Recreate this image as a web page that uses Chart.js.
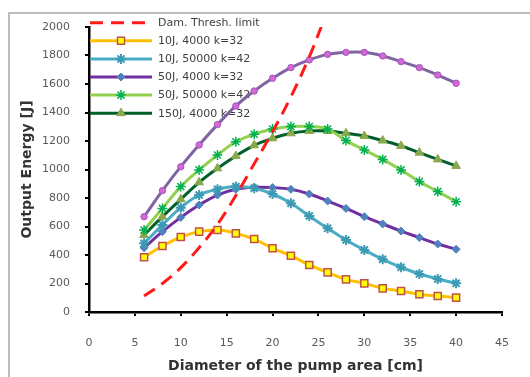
<!DOCTYPE html>
<html>
<head>
<meta charset="utf-8">
<script src="https://cdn.jsdelivr.net/npm/chart.js@4.4.1/dist/chart.umd.min.js"></script>
<style>
  html, body { margin: 0; padding: 0; background: #fff; }
  #wrap { width: 530px; height: 377px; position: relative; }
</style>
</head>
<body>
<div id="wrap"><canvas id="chart"></canvas></div>
<script>
// pump diameter [cm] for all simulated series
const diameter = [6, 8, 10, 12, 14, 16, 18, 20, 22, 24, 26, 28, 30, 32, 34, 36, 38, 40];

// damage threshold limit (dashed red)
const threshDiameter = [6, 8, 10, 12, 14, 16, 18, 20, 22, 24, 25.3];
const threshEnergy = [112, 200, 311, 452, 615, 818, 1040, 1265, 1510, 1790, 2000];

// output energy [J]
const e10J4000 = [384, 463, 526, 564, 575, 552, 512, 447, 395, 330, 278, 229, 201, 166, 147, 124, 112, 101];
const e10J50000 = [482, 611, 732, 821, 861, 880, 868, 828, 763, 674, 587, 505, 435, 370, 314, 267, 232, 201];
const e50J4000 = [451, 564, 664, 751, 821, 861, 875, 873, 861, 828, 779, 727, 669, 618, 568, 522, 477, 440];
const e50J50000 = [575, 727, 880, 997, 1102, 1195, 1247, 1284, 1301, 1301, 1284, 1203, 1137, 1071, 997, 915, 845, 774];
const e150J4000 = [540, 669, 791, 910, 1008, 1095, 1170, 1219, 1254, 1270, 1270, 1254, 1235, 1203, 1165, 1118, 1071, 1025];
const e150J50000 = [669, 852, 1020, 1172, 1315, 1446, 1551, 1640, 1715, 1769, 1808, 1822, 1822, 1797, 1757, 1715, 1663, 1605];

const labels = ['Dam. Thresh. limit', '10J, 4000 k=32', '10J, 50000 k=42', '50J, 4000 k=32',
                '50J, 50000 k=42', '150J, 4000 k=32', '150J, 50000 k=42'];

function pts(xs, ys) {
    return xs.map(function (x, i) { return { x: x, y: ys[i] }; });
}

const FONT = 'DejaVu Sans';

// legend drawn inside the plot, top-left, like the original
const insideLegend = {
    id: 'insideLegend',
    beforeDatasetsDraw(chart) {
        const ctx = chart.ctx;
        const sets = chart.data.datasets;
        ctx.save();
        let y = 22.7;
        for (let i = 0; i < sets.length; i++) {
            const ds = sets[i];
            if (ds.noLegend) continue;
            ctx.beginPath();
            ctx.setLineDash(ds.borderDash || []);
            ctx.strokeStyle = ds.borderColor;
            ctx.lineWidth = ds.borderWidth;
            ctx.moveTo(90, y);
            ctx.lineTo(152, y);
            ctx.stroke();
            ctx.setLineDash([]);
            if (ds.pointRadius > 0) {
                ctx.fillStyle = ds.pointBackgroundColor;
                ctx.strokeStyle = ds.pointBorderColor;
                ctx.lineWidth = ds.pointBorderWidth;
                Chart.helpers.drawPoint(ctx, {
                    pointStyle: ds.pointStyle, radius: ds.pointRadius,
                    rotation: 0, borderWidth: ds.pointBorderWidth
                }, 121, y);
            }
            ctx.fillStyle = '#404040';
            ctx.font = '11px "' + FONT + '"';
            ctx.textBaseline = 'middle';
            ctx.textAlign = 'left';
            ctx.fillText(ds.label, 158, y + 0.5);
            y += 18.1;
        }
        ctx.restore();
    }
};

// grey outer frame (top and left edges visible)
const frame = {
    id: 'frame',
    beforeDraw(chart) {
        const ctx = chart.ctx;
        ctx.save();
        ctx.strokeStyle = '#a6a6a6';
        ctx.lineWidth = 1.5;
        ctx.beginPath();
        ctx.moveTo(530, 13);
        ctx.lineTo(9, 13);
        ctx.lineTo(9, 377);
        ctx.stroke();
        ctx.restore();
    }
};

function series(label, data, color, style, fill, border, radius, bw) {
    return {
        label: label,
        data: data,
        borderColor: color,
        borderWidth: 3,
        tension: 0.4,
        pointStyle: style,
        pointRadius: radius,
        pointBackgroundColor: fill,
        pointBorderColor: border,
        pointBorderWidth: bw,
        pointHoverRadius: radius
    };
}

const datasets = [
    {
        label: labels[0],
        data: pts(threshDiameter, threshEnergy),
        borderColor: '#ff1a1a',
        borderWidth: 3,
        borderDash: [13, 8],
        tension: 0.4,
        pointRadius: 0
    },
    series(labels[1], pts(diameter, e10J4000), '#ffc000', 'rect', '#ffff00', '#c0504d', 5, 1.5),
    series(labels[2], pts(diameter, e10J50000), '#4bacc6', 'star', '#4bacc6', '#3c9ab4', 5, 2),
    series(labels[3], pts(diameter, e50J4000), '#7030a0', 'rectRot', '#4f81bd', '#4f81bd', 4, 1),
    series(labels[4], pts(diameter, e50J50000), '#92d050', 'star', '#00b050', '#00b050', 5, 1.5),
    series(labels[5], pts(diameter, e150J4000), '#00602b', 'triangle', '#8aa84c', '#8aa84c', 5, 1),
    Object.assign(series(labels[6], pts(diameter, e150J50000), '#8064a2', 'circle', '#d966d9', '#9b59b6', 3.2, 1), { noLegend: true })
];

new Chart(document.getElementById('chart'), {
    type: 'line',
    data: { datasets: datasets },
    plugins: [frame, insideLegend],
    options: {
        responsive: true,
        maintainAspectRatio: false,
        animation: false,
        layout: { padding: { left: 0, right: 13, top: 27, bottom: 0 } },
        plugins: { legend: { display: false }, tooltip: { enabled: false } },
        scales: {
            x: {
                type: 'linear',
                min: 0, max: 45,
                afterFit: function (s) { s.height = 65; },
                ticks: { stepSize: 5, padding: 21, color: '#595959', font: { family: FONT, size: 11 },
                         callback: function (v) { return String(v); } },
                grid: { drawOnChartArea: false, drawTicks: true, tickLength: 4, color: '#000', lineWidth: 2 },
                border: { color: '#000', width: 2.5 },
                title: { display: true, text: 'Diameter of the pump area [cm]', color: '#333',
                         font: { family: FONT, size: 14, weight: 'bold' }, padding: { top: 0, bottom: 2 } }
            },
            y: {
                min: 0, max: 2000,
                afterFit: function (s) { s.width = 89; },
                ticks: { stepSize: 200, padding: 15, color: '#595959', font: { family: FONT, size: 11 },
                         callback: function (v) { return String(v); } },
                grid: { drawOnChartArea: false, drawTicks: true, tickLength: 4, color: '#000', lineWidth: 2 },
                border: { color: '#000', width: 2.5 },
                title: { display: true, text: 'Output Energy [J]', color: '#333',
                         font: { family: FONT, size: 14, weight: 'bold' }, padding: { top: 19, bottom: 0 } }
            }
        }
    }
});
</script>
</body>
</html>
